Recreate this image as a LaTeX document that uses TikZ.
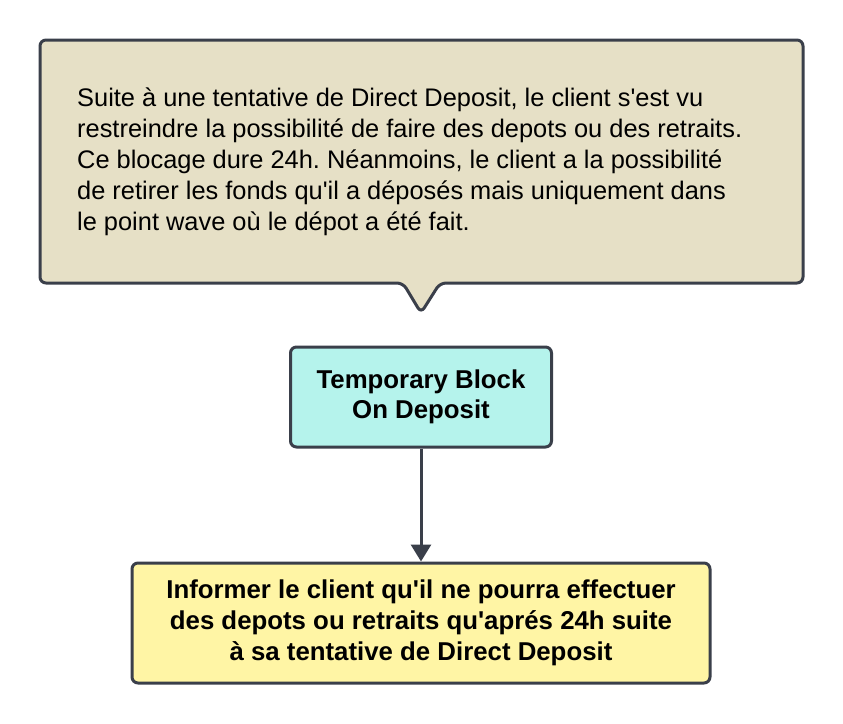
\documentclass[tikz,border=0pt]{standalone}
\usepackage{fontspec}
\setmainfont{Liberation Sans}
\usetikzlibrary{arrows.meta}
\definecolor{edgecolor}{HTML}{3A3F4A}
\definecolor{notecolor}{HTML}{E6E0C6}
\definecolor{blockcolor}{HTML}{B5F3EC}
\definecolor{infocolor}{HTML}{FFF5A5}
\newcommand\aps{\textquotesingle}
\frenchspacing
\tikzset{
  boxstyle/.style={draw=edgecolor,line width=3pt,rounded corners=6pt,
    align=center,font=\fontsize{25.8}{30}\selectfont\bfseries,inner sep=0pt},
  link/.style={draw=edgecolor,line width=3pt,-{Triangle[length=17pt,width=20pt]}}
}
\begin{document}
\begin{tikzpicture}[x=1pt,y=-1pt]
\useasboundingbox (0,0) rectangle (843,723);
% callout with its pointer under the box
\draw[edgecolor,fill=notecolor,line width=3pt,rounded corners=6pt]
  (40,40) -- (803,40) -- (803,283) -- (440,283) -- (421,313) -- (403,283)
  -- (40,283) -- cycle;
\node[anchor=west,align=left,inner sep=0pt,
      font=\fontsize{25.4}{31}\selectfont] (note) at (77,162)
  {Suite à une tentative de Direct Deposit, le client s\aps est vu\\
   restreindre la possibilité de faire des depots ou des retraits.\\
   Ce blocage dure 24h. Néanmoins, le client a la possibilité\\
   de retirer les fonds qu\aps il a déposés mais uniquement dans\\
   le point wave où le dépot a été fait.};
\node[boxstyle,fill=blockcolor,minimum width=261pt,minimum height=100pt]
  (block) at (421,397) {Temporary Block\\On Deposit};
\node[boxstyle,fill=infocolor,minimum width=578pt,minimum height=120pt,
      font=\fontsize{25.8}{31}\selectfont\bfseries]
  (inform) at (421,623)
  {Informer le client qu\aps il ne pourra effectuer\\
   des depots ou retraits qu\aps aprés 24h suite\\
   à sa tentative de Direct Deposit};
\draw[link] (block) -- (inform);
\end{tikzpicture}
\end{document}
